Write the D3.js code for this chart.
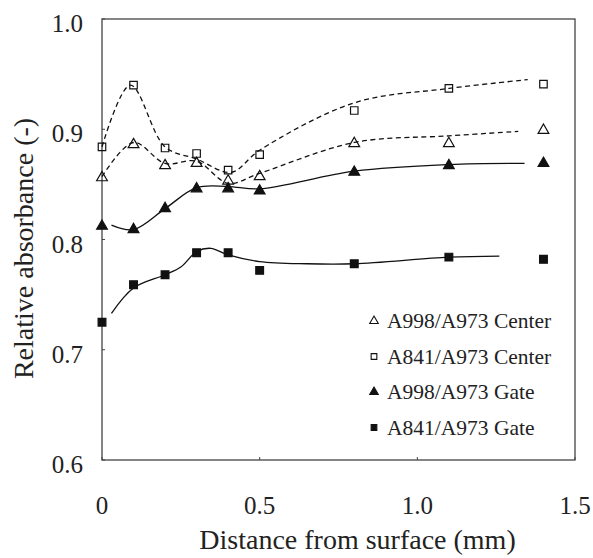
<!DOCTYPE html>
<html>
<head>
<meta charset="utf-8">
<script src="https://cdnjs.cloudflare.com/ajax/libs/d3/7.8.5/d3.min.js"></script>
</head>
<body style="margin:0">
<script>
// measured points
var xs = [0, 0.1, 0.2, 0.3, 0.4, 0.5, 0.8, 1.1, 1.4]
var triCenter = [0.857, 0.887, 0.868, 0.870, 0.854, 0.858, 0.888, 0.888, 0.900]
var sqCenter  = [0.884, 0.940, 0.883, 0.878, 0.863, 0.877, 0.917, 0.937, 0.941]
var triGate   = [0.813, 0.810, 0.829, 0.847, 0.847, 0.845, 0.862, 0.868, 0.870]
var sqGate    = [0.725, 0.759, 0.768, 0.788, 0.788, 0.772, 0.778, 0.784, 0.782]

// fitted curves (knots)
var sqCenterFitX  = [0, 0.09, 0.2, 0.3, 0.41, 0.5, 0.8, 1.1, 1.35]
var sqCenterFitY  = [0.884, 0.940, 0.884, 0.873, 0.861, 0.881, 0.924, 0.937, 0.945]
var triCenterFitX = [0, 0.1, 0.2, 0.3, 0.4, 0.5, 0.8, 1.1, 1.32]
var triCenterFitY = [0.857, 0.888, 0.869, 0.871, 0.851, 0.860, 0.888, 0.894, 0.898]
var triGateFitX   = [0.03, 0.1, 0.2, 0.3, 0.4, 0.5, 0.8, 1.1, 1.34]
var triGateFitY   = [0.813, 0.809, 0.828, 0.847, 0.848, 0.846, 0.862, 0.868, 0.869]
var sqGateFitX    = [0.03, 0.1, 0.2, 0.25, 0.3, 0.345, 0.4, 0.5, 0.65, 0.8, 1.1, 1.26]
var sqGateFitY    = [0.733, 0.756, 0.768, 0.775, 0.789, 0.792, 0.786, 0.780, 0.778, 0.778, 0.784, 0.785]

var legendLabels = ["A998/A973 Center", "A841/A973 Center", "A998/A973 Gate", "A841/A973 Gate"]
var xTicks = [0, 0.5, 1.0, 1.5]
var yTicks = [0.6, 0.7, 0.8, 0.9, 1.0]

var width = 593
var height = 558
var margin = {left: 102, right: 18, top: 19, bottom: 98}

var svg = d3.select("body")
  .append("svg")
    .attr("width", width)
    .attr("height", height)

var x = d3.scaleLinear().domain([0, 1.5]).range([margin.left, width - margin.right])
var y = d3.scaleLinear().domain([0.6, 1.0]).range([height - margin.bottom, margin.top])

// all the texts go through here
function label(sel, size) {
  return sel.append("text")
    .style("font-family", "'Liberation Serif'").style("font-size", size + "px")
    .attr("fill", "#222")
}

// frame
svg.append("rect")
  .attr("x", x(0)).attr("y", y(1.0))
  .attr("width", x(1.5) - x(0)).attr("height", y(0.6) - y(1.0))
  .attr("fill", "none").attr("stroke", "#444").attr("stroke-width", 1.3)

// ticks (small, inward)
yTicks.forEach(function(d) {
  svg.append("line")
    .attr("x1", x(0)).attr("x2", x(0) + 3)
    .attr("y1", y(d)).attr("y2", y(d))
    .attr("stroke", "#444")
  label(svg, 25)
    .attr("x", x(0) - 19).attr("y", y(d) + 13)
    .attr("text-anchor", "end")
    .text(d.toFixed(1))
})
xTicks.forEach(function(d) {
  svg.append("line")
    .attr("x1", x(d)).attr("x2", x(d))
    .attr("y1", y(0.6)).attr("y2", y(0.6) - 3)
    .attr("stroke", "#444")
  label(svg, 25)
    .attr("x", x(d)).attr("y", 514)
    .attr("text-anchor", "middle")
    .text(d === 0 ? "0" : d.toFixed(1))
})

label(svg, 28)
  .attr("x", (x(0) + x(1.5)) / 2 + 19).attr("y", 549)
  .attr("text-anchor", "middle")
  .text("Distance from surface (mm)")
label(svg, 28)
  .attr("transform", "translate(33," + ((y(0.6) + y(1.0)) / 2 + 9) + ") rotate(-90)")
  .attr("text-anchor", "middle")
  .text("Relative absorbance (-)")

// curves
var line = d3.line()
  .x(function(d){ return x(d[0]) })
  .y(function(d){ return y(d[1]) })
  .curve(d3.curveCatmullRom.alpha(0.5))

function drawFit(fx, fy, dashed) {
  svg.append("path")
    .datum(d3.zip(fx, fy))
    .attr("d", line)
    .attr("fill", "none").attr("stroke", "#111").attr("stroke-width", 1.3)
    .attr("stroke-dasharray", dashed ? "5,3.5" : null)
}
drawFit(sqCenterFitX, sqCenterFitY, true)
drawFit(triCenterFitX, triCenterFitY, true)
drawFit(triGateFitX, triGateFitY, false)
drawFit(sqGateFitX, sqGateFitY, false)

// markers
var triSym = d3.symbol().type(d3.symbolTriangle)
var sqSym = d3.symbol().type(d3.symbolSquare)

function drawPts(vals, sym, size, filled) {
  svg.append("g").selectAll("path")
    .data(d3.zip(xs, vals))
    .enter()
    .append("path")
      .attr("d", sym.size(size)())
      .attr("transform", function(d){ return "translate(" + x(d[0]) + "," + (y(d[1]) + (sym === triSym ? 1 : 0)) + ")" })
      .attr("fill", filled ? "#111" : "none")
      .attr("stroke", "#111").attr("stroke-width", 1.2)
}
drawPts(triCenter, triSym, 50, false)
drawPts(sqCenter, sqSym, 56, false)
drawPts(triGate, triSym, 50, true)
drawPts(sqGate, sqSym, 60, true)

// legend
var legendSyms = [[triSym, false], [sqSym, false], [triSym, true], [sqSym, true]]
legendLabels.forEach(function(lab, i) {
  var ly = 320 + i * 35.5
  svg.append("path")
    .attr("d", legendSyms[i][0].size(32)())
    .attr("transform", "translate(374," + (ly + 1) + ")")
    .attr("fill", legendSyms[i][1] ? "#111" : "#fff")
    .attr("stroke", "#111").attr("stroke-width", 1.1)
  label(svg, 21.5)
    .attr("x", 387).attr("y", ly + 8)
    .text(lab)
})
</script>
</body>
</html>
